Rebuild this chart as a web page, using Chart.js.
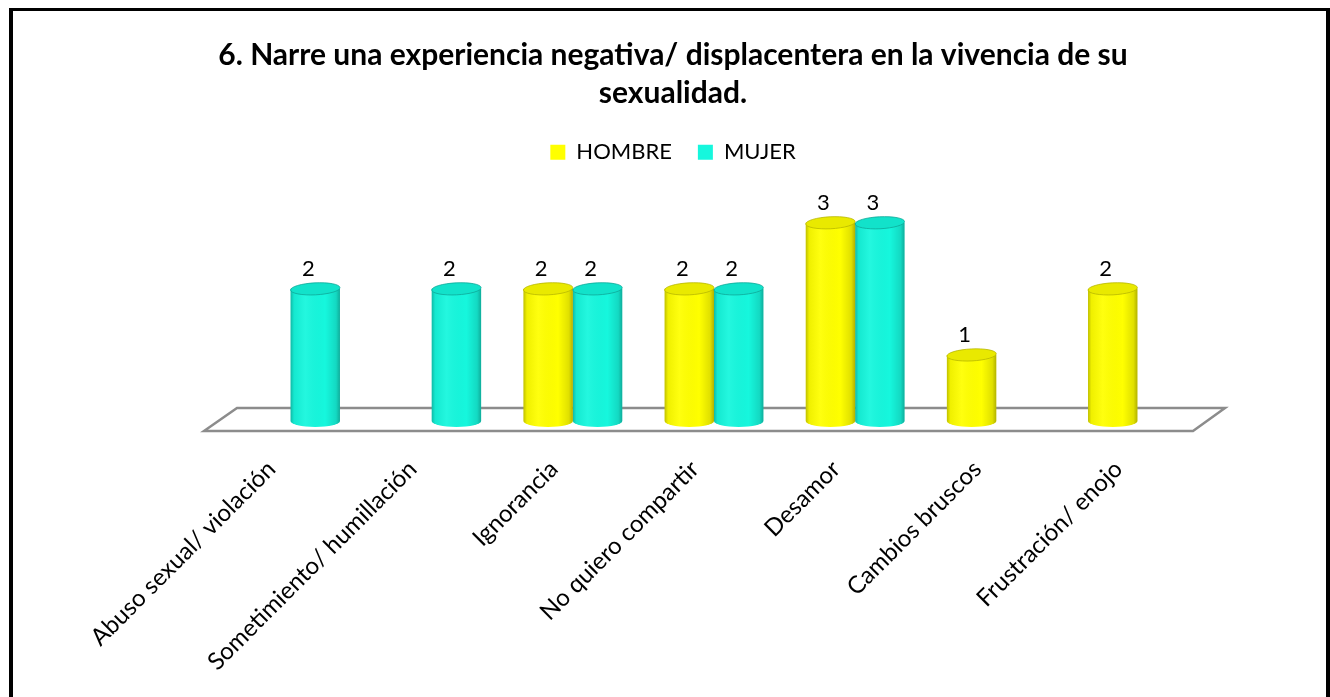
<!DOCTYPE html>
<html>
<head>
<meta charset="utf-8">
<script src="https://cdn.jsdelivr.net/npm/chart.js@4/dist/chart.umd.min.js"></script>
<style>
  html, body { margin: 0; padding: 0; background: #fff; overflow: hidden; }
  #frame { position: absolute; left: 9px; top: 8px; width: 1321px; height: 720px; box-sizing: border-box; border: 4px solid #000; border-top-width: 3px; }
  #chart { position: absolute; left: 0; top: 0; }
</style>
</head>
<body>
<div id="frame"></div>
<canvas id="chart" width="1330" height="697"></canvas>
<script>
// chart values
const titleLines = ['6. Narre una experiencia negativa/ displacentera en la vivencia de su', 'sexualidad.'];
const categories = ['Abuso sexual/ violación', 'Sometimiento/ humillación', 'Ignorancia', 'No quiero compartir', 'Desamor', 'Cambios bruscos', 'Frustración/ enojo'];
const seriesNames = ['HOMBRE', 'MUJER'];
const hombre = [null, null, 2, 2, 3, 1, 2];
const mujer = [2, 2, 2, 2, 3, null, null];

const colors = ['#ffff00', '#16f7dd'];
const tops = ['#e9e900', '#12e2ca'];
const edges = ['#b8b800', '#0ea898'];

Chart.defaults.font.family = 'Lato';
Chart.defaults.color = '#000';

// gray 3d floor under the bars
const floor = {
  id: 'floor',
  beforeDatasetsDraw(chart) {
    const ctx = chart.ctx;
    const { left, right } = chart.chartArea;
    const y0 = chart.scales.y.getPixelForValue(0);
    ctx.save();
    ctx.beginPath();
    ctx.moveTo(left - 16, y0 + 10);
    ctx.lineTo(left + 17, y0 - 13);
    ctx.lineTo(right + 17, y0 - 13);
    ctx.lineTo(right - 15, y0 + 10);
    ctx.closePath();
    ctx.strokeStyle = '#8c8c8c';
    ctx.lineWidth = 2.5;
    ctx.stroke();
    ctx.restore();
  }
};

// turn the flat bars into cylinders and put the values on top
const cylinders = {
  id: 'cylinders',
  afterDatasetsDraw(chart) {
    const ctx = chart.ctx;
    const labels = [];
    chart.data.datasets.forEach((ds, di) => {
      const meta = chart.getDatasetMeta(di);
      meta.data.forEach((bar, i) => {
        if (ds.data[i] == null) return;
        const { x, y, base, width } = bar.getProps(['x', 'y', 'base', 'width'], true);
        const rx = width / 2, ry = 6;
        ctx.save();
        ctx.beginPath();
        ctx.ellipse(x, base, rx, ry, 0, 0, Math.PI);
        ctx.fillStyle = colors[di];
        ctx.fill();

        const g = ctx.createLinearGradient(x - rx, 0, x + rx, 0);
        g.addColorStop(0, 'rgba(0,0,0,0.25)');
        g.addColorStop(0.07, 'rgba(0,0,0,0.06)');
        g.addColorStop(0.3, 'rgba(255,255,255,0.06)');
        g.addColorStop(0.7, 'rgba(0,0,0,0)');
        g.addColorStop(0.92, 'rgba(0,0,0,0.12)');
        g.addColorStop(1, 'rgba(0,0,0,0.3)');
        ctx.beginPath();
        ctx.moveTo(x - rx, y);
        ctx.lineTo(x + rx, y);
        ctx.lineTo(x + rx, base);
        ctx.ellipse(x, base, rx, ry, 0, 0, Math.PI);
        ctx.closePath();
        ctx.fillStyle = g;
        ctx.fill();

        ctx.beginPath();
        ctx.ellipse(x, y, rx, ry, -0.05, 0, 2 * Math.PI);
        ctx.fillStyle = tops[di];
        ctx.fill();
        ctx.strokeStyle = edges[di];
        ctx.lineWidth = 0.8;
        ctx.stroke();
        ctx.restore();
        labels.push([x, y, ds.data[i]]);
      });
    });
    ctx.save();
    ctx.font = '22px Lato';
    ctx.fillStyle = '#000';
    ctx.textAlign = 'center';
    ctx.textBaseline = 'alphabetic';
    labels.forEach(([x, y, v]) => ctx.fillText(String(v), x - 7, y - 13));
    ctx.restore();
  }
};

const hidden = {
  grid: { display: false, drawTicks: false },
  border: { display: false },
  ticks: { display: false }
};

new Chart(document.getElementById('chart'), {
  type: 'bar',
  data: {
    labels: categories,
    datasets: [
      { label: seriesNames[0], data: hombre, backgroundColor: colors[0], borderWidth: 0 },
      { label: seriesNames[1], data: mujer, backgroundColor: colors[1], borderWidth: 0 }
    ]
  },
  options: {
    responsive: false,
    animation: false,
    layout: { padding: { left: 26, right: 10, top: 10, bottom: 0 } },
    datasets: { bar: { categoryPercentage: 0.7, barPercentage: 1.0 } },
    plugins: {
      title: {
        display: true,
        text: titleLines,
        color: '#000',
        font: { family: 'Lato', size: 30, weight: 'bold', lineHeight: 1.27 },
        padding: { top: 26, bottom: 3 }
      },
      legend: {
        display: true,
        labels: { boxWidth: 15, boxHeight: 15, padding: 26, color: '#000', font: { family: 'Lato', size: 22 } }
      },
      tooltip: { enabled: false }
    },
    scales: {
      x: {
        grid: { display: false, drawTicks: false },
        border: { display: false },
        ticks: {
          autoSkip: false, minRotation: 45, maxRotation: 45,
          padding: 34, labelOffset: -19, color: '#000',
          font: { family: 'Lato', size: 24 }
        },
        afterFit(s) { s.height = 697 - 421; }
      },
      y: Object.assign({ min: 0, max: 3.75, afterFit(s) { s.width = 194; } }, hidden),
      yR: Object.assign({ position: 'right', afterFit(s) { s.width = 112; } }, hidden)
    }
  },
  plugins: [floor, cylinders]
});
</script>
</body>
</html>
